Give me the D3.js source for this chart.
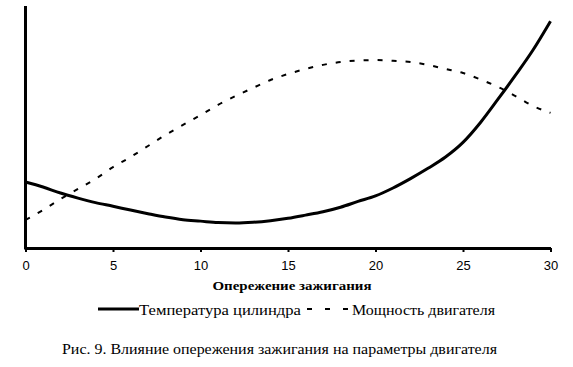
<!DOCTYPE html>
<html><head><meta charset="utf-8">
<script src="https://cdn.jsdelivr.net/npm/d3@7"></script>
<style>body{margin:0;background:#fff}svg{display:block}
.serif{font-family:"Liberation Serif","DejaVu Serif","Times New Roman",serif}
.sans{font-family:"Liberation Sans",Arial,sans-serif}</style>
</head><body><svg id="c" width="573" height="367"></svg>
<script>
const advance = [0,1,2,3,4,5,6,7,8,9,10,11,12,13,14,15,16,17,18,19,20,21,22,23,24,25,26,27,28,29,30];
const temperature = [27.5,25.4,22.9,20.8,18.9,17.4,15.8,14.3,12.9,11.8,11.2,10.6,10.4,10.7,11.4,12.4,13.7,15.1,17.0,19.4,21.7,25.0,28.9,33.2,37.9,44.0,52.3,62.0,72.0,82.5,94.5];
const power = [11.7,15.8,20.4,24.6,28.8,33.7,37.9,42.5,47.1,51.3,55.4,59.6,63.3,66.7,70.0,72.5,74.6,76.3,77.5,78.1,78.3,78.0,77.5,76.3,74.6,72.9,70.2,67.1,63.3,59.2,56.3];
const xTickValues = [0,5,10,15,20,25,30];
const xTitle = "Опережение зажигания";
const seriesNames = ["Температура цилиндра","Мощность двигателя"];
const caption = "Рис. 9. Влияние опережения зажигания на параметры двигателя";

const svg = d3.select("#c");
const x = d3.scaleLinear().domain([0,30]).range([25.5,550.5]);
const y = d3.scaleLinear().domain([0,100]).range([248,8]);

const line = d3.line().x((d,i)=>x(advance[i])).y(d=>y(d)).curve(d3.curveMonotoneX);
svg.append("path").datum(power).attr("d",line).attr("fill","none")
  .attr("stroke","#000").attr("stroke-width",2).attr("stroke-dasharray","5,9");
svg.append("path").datum(temperature).attr("d",line).attr("fill","none")
  .attr("stroke","#000").attr("stroke-width",3);

const xAxis = d3.axisBottom(x).tickValues(xTickValues).tickSize(4).tickPadding(9).tickSizeOuter(0);
const gx = svg.append("g").attr("transform","translate(0,248)").call(xAxis);
gx.attr("font-family",null);
gx.select(".domain").attr("stroke","#000").attr("stroke-width",3);
gx.selectAll(".tick line").attr("stroke","#000").attr("stroke-width",2);
gx.selectAll(".tick text").attr("class","sans").attr("font-size",13).attr("fill","#000");

svg.append("line").attr("x1",x(0)).attr("x2",x(0)).attr("y1",6).attr("y2",249.5)
  .attr("stroke","#000").attr("stroke-width",3);

svg.append("text").attr("class","serif").attr("x",292).attr("y",290).attr("text-anchor","middle")
  .attr("font-weight","bold").attr("font-size",13)
  .attr("textLength",159).attr("lengthAdjust","spacingAndGlyphs").text(xTitle);

svg.append("line").attr("x1",98).attr("x2",139).attr("y1",309).attr("y2",309).attr("stroke","#000").attr("stroke-width",3);
svg.append("text").attr("class","serif").attr("x",139).attr("y",315).attr("font-size",14)
  .attr("textLength",162).attr("lengthAdjust","spacingAndGlyphs").text(seriesNames[0]);
svg.append("line").attr("x1",307).attr("x2",348).attr("y1",309).attr("y2",309).attr("stroke","#000").attr("stroke-width",2).attr("stroke-dasharray","5,13");
svg.append("text").attr("class","serif").attr("x",352).attr("y",315).attr("font-size",14)
  .attr("textLength",143).attr("lengthAdjust","spacingAndGlyphs").text(seriesNames[1]);

svg.append("text").attr("class","serif").attr("x",62).attr("y",354).attr("font-size",14)
  .attr("textLength",435).attr("lengthAdjust","spacingAndGlyphs").text(caption);
</script></body></html>
